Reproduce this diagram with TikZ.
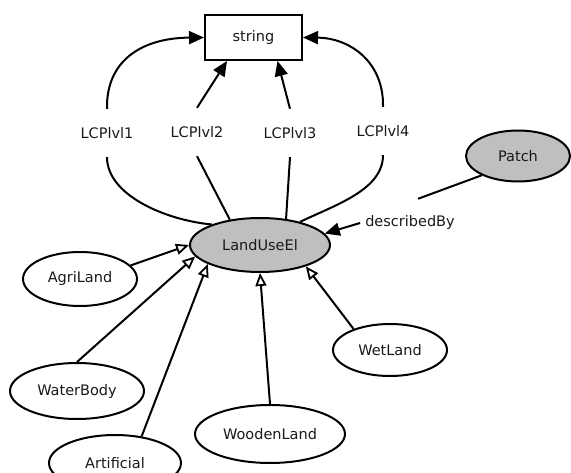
\documentclass[tikz,border=0pt]{standalone}
\usepackage{fontspec}
\setmainfont{DejaVu Sans}
\usetikzlibrary{shapes.geometric,arrows.meta}
\tikzset{
  base/.style={font=\fontsize{14.5}{17}\selectfont, text=black!90},
  cls/.style={base, ellipse, draw, line width=2pt, inner sep=0pt, fill=white},
  grey/.style={fill=black!25},
  lbl/.style={base, inner sep=0pt, inner xsep=5pt, minimum height=48pt},
  edge/.style={line width=2pt},
  assoc/.style={edge, -{Triangle[length=15pt,width=13pt]}},
  inh/.style={edge, -{Triangle[open,length=13pt,width=11pt,line width=1.8pt]}}
}
\begin{document}
\begin{tikzpicture}[x=1pt,y=-1pt]
\useasboundingbox (0,0) rectangle (571,473);
\clip (0,0) rectangle (571,473);
% nodes
\node[base, draw, line width=2pt, minimum width=97pt, minimum height=45pt, inner sep=0pt] (str) at (253.5,37.5) {string};
\node[cls, grey, minimum width=140pt, minimum height=54pt] (land) at (260,245) {LandUseEl};
\node[cls, grey, minimum width=104pt, minimum height=51pt] (patch) at (518,156) {Patch};
\node[cls, minimum width=114pt, minimum height=54pt] (agri) at (80,279) {AgriLand};
\node[cls, minimum width=134pt, minimum height=56pt] (water) at (77,391) {WaterBody};
\node[cls, minimum width=132pt, minimum height=56pt] (art) at (115,463) {Artificial};
\node[cls, minimum width=150pt, minimum height=58pt] (wood) at (270,434) {WoodenLand};
\node[cls, minimum width=114pt, minimum height=52pt] (wet) at (390,350) {WetLand};
% labels
\node[lbl] (l1) at (107,133) {LCPlvl1};
\node[lbl] (l2) at (197,132) {LCPlvl2};
\node[lbl] (l3) at (290,133) {LCPlvl3};
\node[lbl] (l4) at (383,131) {LCPlvl4};
\node[lbl] (desc) at (410,223) {describedBy};
% LCP edges
\draw[edge] (l1.south) .. controls (107,195) and (165,220) .. (land.157);
\draw[assoc] (l1.north) .. controls (106,62) and (140,38) .. (str.west);
\draw[edge] (l2.south) -- (land.140);
\draw[assoc] (l2.north) -- ([xshift=23pt]str.south west);
\draw[edge] (l3.south) -- (land.45);
\draw[assoc] (l3.north) -- ([xshift=24pt]str.south);
\draw[edge] (l4.south) .. controls (383,190) and (335,205) .. (land.30);
\draw[assoc] (l4.north) .. controls (384,62) and (350,38) .. (str.east);
% describedBy
\draw[edge] (patch.208) -- ([xshift=8pt]desc.north);
\draw[assoc] (desc.west) -- (land.10);
% inheritance
\draw[inh] (agri.15) -- (land.west);
\draw[inh] (water.north) -- (land.190);
\draw[inh] (art.45) -- (land.200);
\draw[inh] (wood.north) -- (land.south);
\draw[inh] (wet.150) -- (land.335);
\end{tikzpicture}
\end{document}
